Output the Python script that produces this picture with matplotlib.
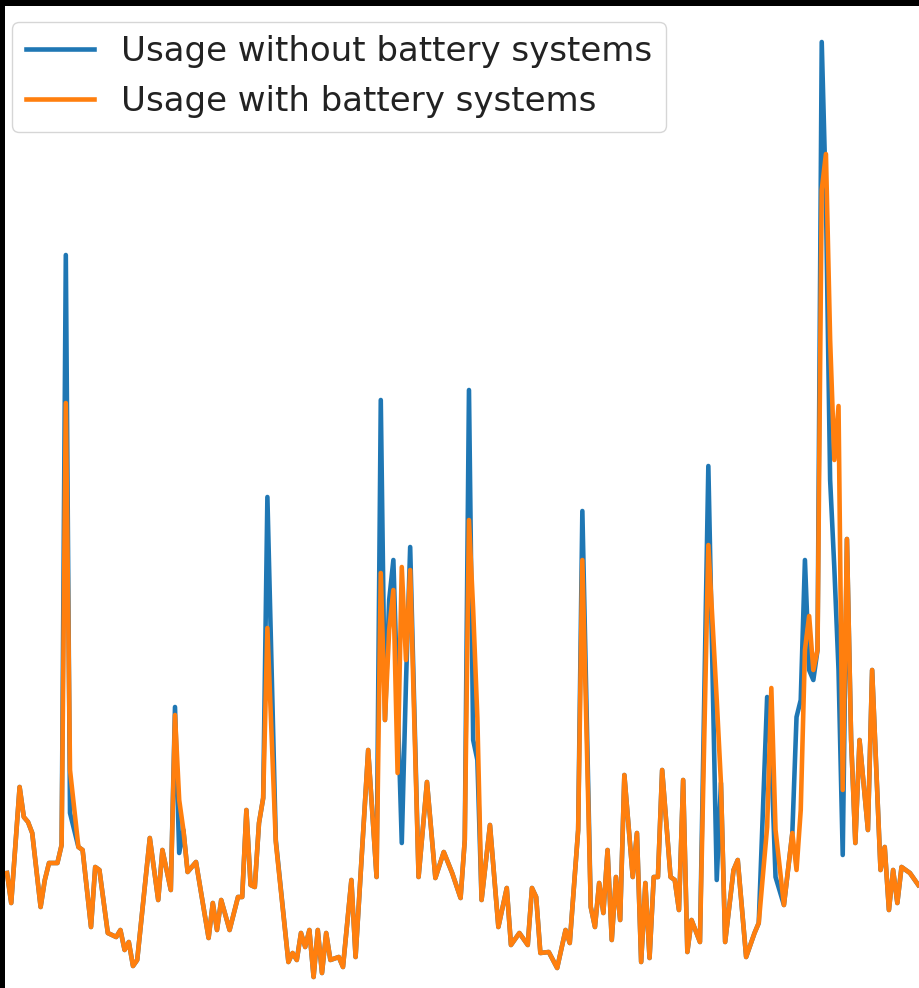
import matplotlib.pyplot as plt

# sample index (time step) and usage in kW
steps = [0, 1, 3, 4, 5, 6, 8, 9, 10, 12, 13, 14, 15, 17, 18, 20, 21, 22, 24, 26,
         27, 28, 29, 30, 31, 34, 36, 37, 39, 40, 41, 42, 43, 45, 48, 49, 50, 51, 53, 55,
         56, 57, 58, 59, 60, 61, 62, 64, 67, 68, 69, 70, 71, 72, 73, 74, 75, 76, 77, 79,
         80, 82, 83, 86, 88, 89, 90, 91, 92, 93, 94, 95, 96, 98, 100, 102, 104, 106, 108, 109,
         110, 111, 112, 113, 115, 117, 119, 120, 122, 124, 125, 126, 127, 129, 131, 133, 134, 136, 137, 139,
         140, 141, 142, 143, 144, 145, 146, 147, 149, 150, 151, 152, 153, 154, 155, 156, 158, 159, 160, 161,
         162, 163, 165, 167, 169, 170, 171, 173, 174, 176, 178, 179, 181, 182, 183, 185, 187, 188, 189, 190,
         191, 192, 193, 194, 195, 196, 197, 198, 199, 200, 201, 202, 203, 205, 206, 208, 209, 210, 211, 212,
         213, 215, 217]

with_battery = [1.17, 0.87, 2.03, 1.73, 1.68, 1.57, 0.83, 1.10, 1.27, 1.27, 1.45, 5.87, 2.20, 1.43, 1.40, 0.63, 1.23, 1.20, 0.57, 0.53,
                0.60, 0.40, 0.48, 0.24, 0.30, 1.52, 0.90, 1.40, 1.00, 2.75, 1.90, 1.60, 1.18, 1.28, 0.52, 0.87, 0.60, 0.90, 0.60, 0.93,
                0.93, 1.80, 1.05, 1.03, 1.67, 1.92, 3.62, 1.48, 0.28, 0.37, 0.30, 0.57, 0.43, 0.60, 0.13, 0.60, 0.17, 0.57, 0.30, 0.33,
                0.23, 1.10, 0.33, 2.40, 1.13, 4.17, 2.70, 3.60, 4.00, 2.17, 4.23, 3.30, 4.20, 1.13, 2.08, 1.12, 1.38, 1.17, 0.92, 1.50,
                4.70, 3.80, 2.72, 0.90, 1.65, 0.63, 1.02, 0.45, 0.57, 0.45, 1.02, 0.93, 0.37, 0.38, 0.22, 0.60, 0.47, 1.60, 4.30, 0.83,
                0.63, 1.07, 0.77, 1.40, 0.50, 1.13, 0.70, 2.15, 1.13, 1.57, 0.28, 1.07, 0.32, 1.13, 1.13, 2.20, 1.13, 1.10, 0.80, 2.10,
                0.38, 0.70, 0.48, 4.45, 2.90, 2.07, 0.48, 1.20, 1.30, 0.33, 0.57, 0.67, 1.63, 3.02, 1.60, 0.85, 1.57, 1.20, 1.80, 3.40,
                3.74, 3.20, 3.40, 8.00, 8.36, 6.50, 5.30, 5.84, 2.00, 4.51, 2.50, 1.47, 2.50, 1.60, 3.20, 1.20, 1.43, 0.80, 1.20, 0.87,
                1.23, 1.17, 1.05]

without_battery = [1.17, 0.87, 2.03, 1.73, 1.68, 1.57, 0.83, 1.10, 1.27, 1.27, 1.45, 7.35, 1.77, 1.43, 1.40, 0.63, 1.23, 1.20, 0.57, 0.53,
                   0.60, 0.40, 0.48, 0.24, 0.30, 1.52, 0.90, 1.40, 1.00, 2.83, 1.37, 1.60, 1.18, 1.28, 0.52, 0.87, 0.60, 0.90, 0.60, 0.93,
                   0.93, 1.80, 1.05, 1.03, 1.67, 1.92, 4.93, 1.50, 0.28, 0.37, 0.30, 0.57, 0.43, 0.60, 0.13, 0.60, 0.17, 0.57, 0.30, 0.33,
                   0.23, 1.10, 0.33, 2.40, 1.13, 5.90, 2.70, 3.90, 4.30, 2.90, 1.47, 3.07, 4.43, 1.13, 2.08, 1.12, 1.38, 1.17, 0.92, 1.50,
                   6.00, 2.50, 2.30, 0.90, 1.65, 0.63, 1.02, 0.45, 0.57, 0.45, 1.02, 0.93, 0.37, 0.38, 0.22, 0.60, 0.47, 1.60, 4.79, 0.83,
                   0.63, 1.07, 0.77, 1.40, 0.50, 1.13, 0.70, 2.15, 1.13, 1.57, 0.28, 1.07, 0.32, 1.13, 1.13, 2.20, 1.13, 1.10, 0.80, 2.10,
                   0.38, 0.70, 0.48, 5.24, 1.10, 2.07, 0.48, 1.20, 1.30, 0.33, 0.57, 0.67, 2.93, 2.30, 1.13, 0.85, 1.57, 2.73, 2.90, 4.30,
                   3.20, 3.10, 3.40, 9.48, 7.90, 5.10, 4.22, 3.20, 1.35, 4.51, 2.50, 1.47, 2.50, 1.60, 3.20, 1.20, 1.43, 0.80, 1.20, 0.87,
                   1.23, 1.17, 1.05]

labels = ["Usage without battery systems", "Usage with battery systems"]

fig = plt.figure(figsize=(9.2, 9.88), dpi=100, facecolor='black')
ax = fig.add_axes([5/920, 0, 915/920, 982/988])
ax.set_facecolor('white')

ax.plot(steps, without_battery, color='#1f77b4', linewidth=3.3, label=labels[0])
ax.plot(steps, with_battery, color='#ff7f0e', linewidth=3.3, label=labels[1])

ax.set_xlim(-0.48, 217.4)
ax.set_ylim(0.02, 9.84)
ax.set_xticks([])
ax.set_yticks([])
for s in ax.spines.values():
	s.set_visible(False)

leg = ax.legend(loc='upper left', bbox_to_anchor=(0.0077, 0.984), borderaxespad=0,
                fontsize=24.5, handlelength=2.0, framealpha=0.8, labelcolor='#222222')
for line in leg.get_lines():
	line.set_linewidth(3.3)

fig.savefig('out.png', dpi=100, facecolor='black')
